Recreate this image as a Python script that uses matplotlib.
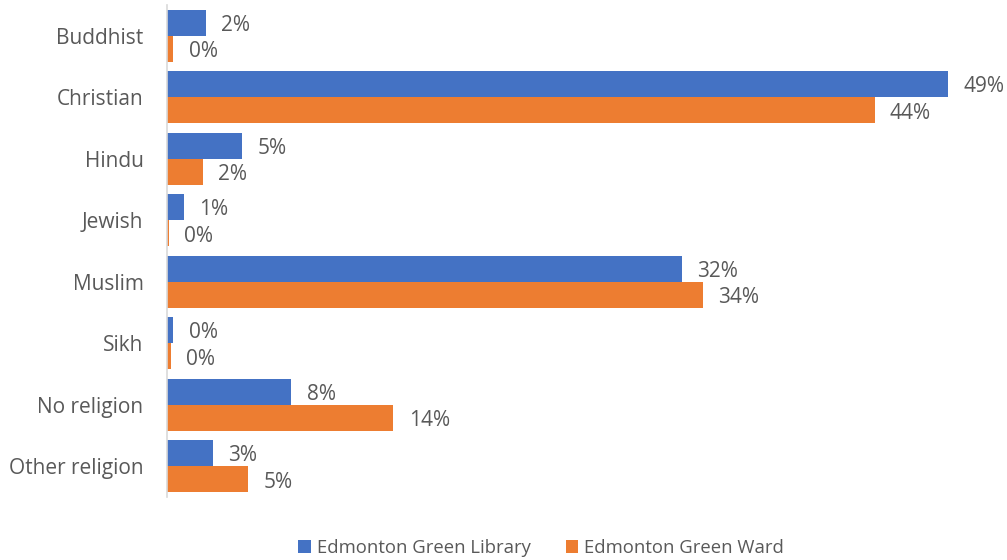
import matplotlib
matplotlib.use("Agg")
import matplotlib.pyplot as plt
import numpy as np

categories = ["Buddhist", "Christian", "Hindu", "Jewish", "Muslim", "Sikh", "No religion", "Other religion"]
library = [2.45, 49.0, 4.7, 1.05, 32.3, 0.4, 7.8, 2.9]
ward = [0.4, 44.4, 2.25, 0.1, 33.6, 0.25, 14.2, 5.1]
series_names = ["Edmonton Green Library", "Edmonton Green Ward"]
colors = ["#4472C4", "#ED7D31"]

plt.rcParams['font.family'] = ['Open Sans', 'DejaVu Sans']
fig = plt.figure(figsize=(10.07, 5.6), dpi=100)
W, H = 1007, 560
left, right, top, bottom = 167, 1000, 5, 497
ax = fig.add_axes([left / W, 1 - bottom / H, (right - left) / W, (bottom - top) / H])

n = len(categories)
y = np.arange(n)
h = 0.425
b1 = ax.barh(y - h / 2, library, height=h, color=colors[0], label=series_names[0])
b2 = ax.barh(y + h / 2, ward, height=h, color=colors[1], label=series_names[1])

text_color = "#595959"
for bars, vals in ((b1, library), (b2, ward)):
    for rect, v in zip(bars, vals):
        ax.annotate(f"{round(v):d}%", (rect.get_width(), rect.get_y() + rect.get_height() / 2),
                    xytext=(11, -2), textcoords="offset points", ha="left", va="center",
                    fontsize=15, color=text_color, annotation_clip=False)

ax.set_ylim(n - 0.5, -0.5)
ax.set_xlim(0, 49.0 * (right - left) / (948 - left))
ax.set_yticks(y)
ax.set_yticklabels(categories, fontsize=15, color=text_color)
ax.tick_params(axis="y", length=0, pad=17)
ax.set_xticks([])
for s in ["top", "right", "bottom"]:
    ax.spines[s].set_visible(False)
ax.spines["left"].set_color("#D9D9D9")
ax.spines["left"].set_linewidth(1.2)

fig.legend(handles=[b1, b2], labels=series_names, loc="center", bbox_to_anchor=(541 / W, 1 - 548 / H),
           ncol=2, frameon=False, fontsize=13.3, handlelength=0.7, handleheight=0.7,
           handletextpad=0.3, columnspacing=1.9, labelcolor=text_color)

fig.savefig("out.png", dpi=100)
